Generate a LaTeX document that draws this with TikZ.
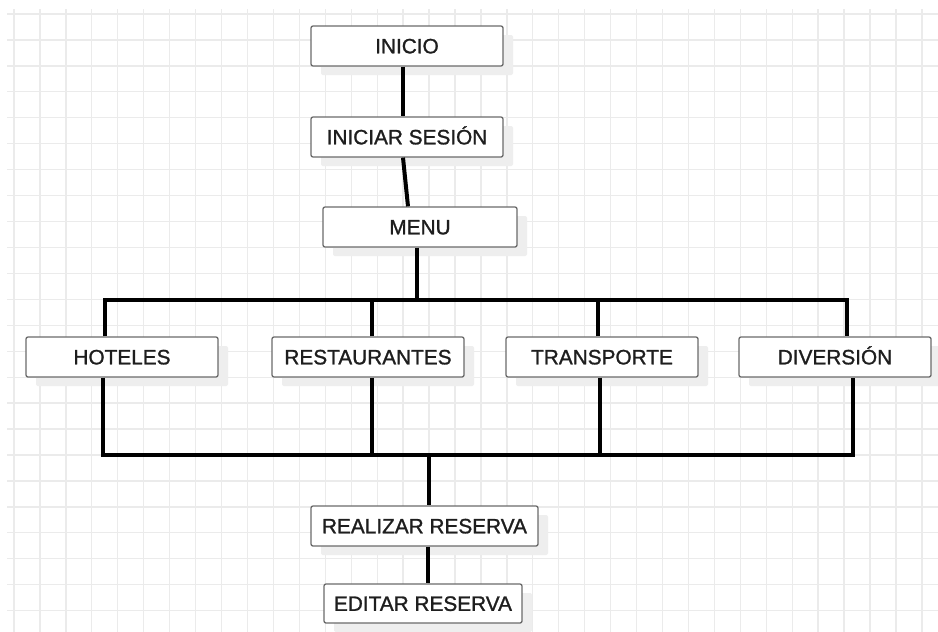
\documentclass[tikz,border=0pt]{standalone}
\usepackage{fontspec}
\setmainfont{Liberation Sans}
\newfontfamily\labfont[FakeBold=1.2]{Liberation Sans}
\usetikzlibrary{shadows,calc}
\definecolor{gridc}{HTML}{EBEBEB}
\definecolor{shadowc}{HTML}{EEEEEE}
\definecolor{boxline}{HTML}{6A6A6A}
\definecolor{txt}{HTML}{1E1E1E}
\tikzset{
  box/.style={draw=boxline, line width=1.3pt, fill=white, rounded corners=2pt,
    minimum width=192pt, minimum height=40pt, inner sep=0pt, text=txt,
    text height=14.7pt, text depth=0pt,
    font=\labfont\fontsize{20.8}{24}\selectfont,
    general shadow={fill=shadowc, shadow xshift=10pt, shadow yshift=-9pt}},
  conn/.style={line width=4pt, draw=black},
  gridline/.style={draw=gridc, line width=1.3pt}
}
\begin{document}
\begin{tikzpicture}[x=1pt,y=-1pt]
\useasboundingbox (0,0) rectangle (938,632);
\fill[white] (0,0) rectangle (938,632);
% grid
\foreach \k in {0,...,35} {
  \draw[gridline] ({14+25.94*\k},9) -- ({14+25.94*\k},632);
}
\foreach \k in {0,...,23} {
  \draw[gridline] (7,{14+25.94*\k}) -- (938,{14+25.94*\k});
}
% nodes
\node[box] (inicio) at (407,46) {INICIO};
\node[box] (iniciar) at (407,137) {INICIAR SESIÓN};
\node[box, minimum width=194pt] (menu) at (420,227) {MENU};
\node[box] (hoteles) at (122,357) {HOTELES};
\node[box] (rest) at (368,357) {RESTAURANTES};
\node[box] (trans) at (602,357) {TRANSPORTE};
\node[box] (div) at (835,357) {DIVERSIÓN};
\node[box, minimum width=227pt] (realizar) at (424.5,526) {REALIZAR RESERVA};
\node[box, minimum width=198pt, minimum height=39pt] (editar) at (423,603.5) {EDITAR RESERVA};
% connectors
\coordinate (tb) at (417,300);
\coordinate (bb) at (429,455);
\draw[conn] ([xshift=-4]inicio.south) -- ([xshift=-4]iniciar.north);
\draw[conn] ([xshift=-4]iniciar.south) -- ([xshift=-12]menu.north);
\draw[conn] ([xshift=-3]menu.south) -- (tb);
\draw[conn] ([xshift=-17]hoteles.north) |- (tb) -| ([xshift=12]div.north);
\draw[conn] ([xshift=4]rest.north) |- (tb);
\draw[conn] ([xshift=-4]trans.north) |- (tb);
\draw[conn] ([xshift=-19]hoteles.south) |- (bb) -| ([xshift=18]div.south);
\draw[conn] ([xshift=4]rest.south) |- (bb);
\draw[conn] ([xshift=-2]trans.south) |- (bb);
\draw[conn] (bb) -- ([xshift=4.5]realizar.north);
\draw[conn] ([xshift=3.5]realizar.south) -- ([xshift=5]editar.north);
\end{tikzpicture}
\end{document}
